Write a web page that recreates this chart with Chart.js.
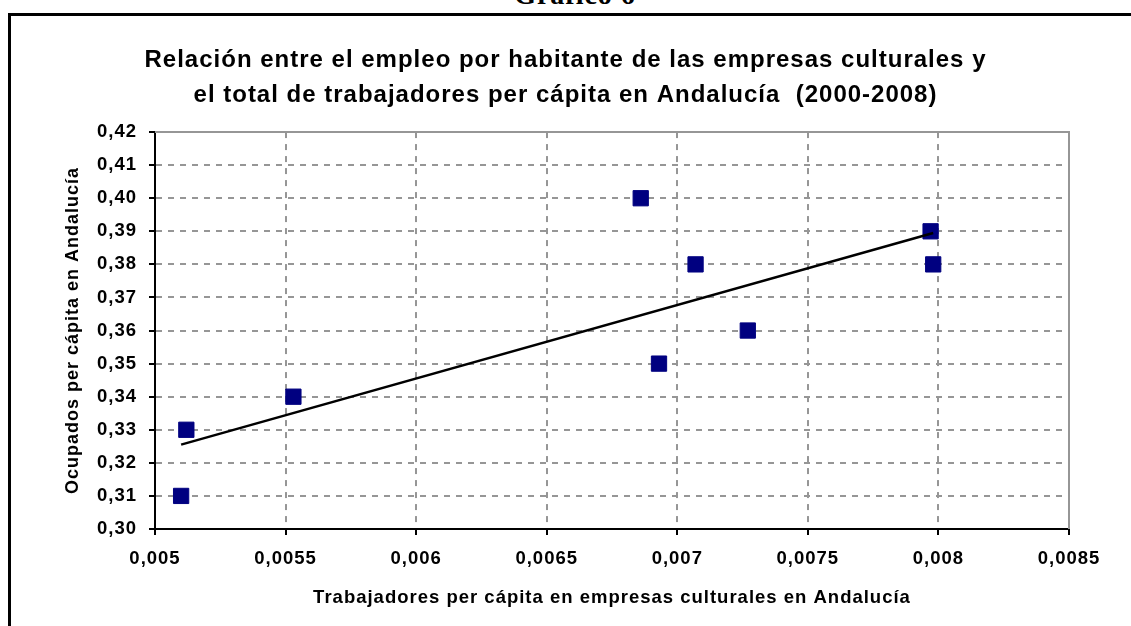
<!DOCTYPE html>
<html>
<head>
<meta charset="utf-8">
<script src="https://cdn.jsdelivr.net/npm/chart.js@4/dist/chart.umd.min.js"></script>
<style>
	html, body { margin: 0; padding: 0; background: #fff; overflow: hidden; }
	#page { position: relative; width: 1131px; height: 626px; }
	#caption {
		position: absolute; left: 0; top: -19px; width: 1150px; text-align: center;
		font: bold 28px "Liberation Serif", "Times New Roman", serif; line-height: 28px;
		letter-spacing: 1px;
	}
	#frame {
		position: absolute; left: 8px; top: 13px; width: 1200px; height: 700px;
		border-top: 3px solid #000; border-left: 3px solid #000;
	}
	#chart { position: absolute; left: 0; top: 0; }
</style>
</head>
<body>
<div id="page">
	<div id="caption">Gráfico 6</div>
	<div id="frame"></div>
	<canvas id="chart" width="1131" height="626"></canvas>
</div>
<script>
// values
var empleoCultural = [0.00510, 0.00512, 0.00553, 0.00686, 0.00707, 0.00693, 0.00727, 0.00797, 0.00798];
var ocupados = [0.31, 0.33, 0.34, 0.40, 0.38, 0.35, 0.36, 0.39, 0.38];

// linear trend line end points
var trendX = [0.00510, 0.00798];
var trendY = [0.3255, 0.3895];

var titleLines = [
	'Relación entre el empleo por habitante de las empresas culturales y',
	'el total de trabajadores per cápita en Andalucía  (2000-2008)'
];
var xTitle = 'Trabajadores per cápita en empresas culturales en Andalucía';
var yTitle = 'Ocupados per cápita en Andalucía';

var FONT = '"Liberation Sans", Arial, sans-serif';

// the original lettering is a bit wider than Arial
var wideText = {
	id: 'wideText',
	beforeUpdate: function(chart) { chart.ctx.letterSpacing = '1px'; },
	beforeDraw: function(chart) { chart.ctx.letterSpacing = '1px'; }
};

// gray solid edge on top and right of the plot
var plotFrame = {
	id: 'plotFrame',
	afterDatasetsDraw: function(chart) {
		var a = chart.chartArea, ctx = chart.ctx;
		ctx.save();
		ctx.strokeStyle = '#969696';
		ctx.lineWidth = 2;
		ctx.beginPath();
		ctx.moveTo(a.left, a.top);
		ctx.lineTo(a.right, a.top);
		ctx.lineTo(a.right, a.bottom);
		ctx.stroke();
		ctx.restore();
	}
};

function comma(v, d) {
	return parseFloat(v.toFixed(d)).toString().replace('.', ',');
}

new Chart(document.getElementById('chart'), {
	type: 'scatter',
	data: {
		datasets: [
			{
				type: 'line',
				order: 0,
				data: trendX.map(function(x, i) { return {x: x, y: trendY[i]}; }),
				borderColor: '#000',
				borderWidth: 2.5,
				pointRadius: 0,
				fill: false
			},
			{
				order: 1,
				data: empleoCultural.map(function(x, i) { return {x: x, y: ocupados[i]}; }),
				pointStyle: 'rect',
				pointRadius: 10.8,
				backgroundColor: '#000080',
				borderColor: '#000080',
				borderWidth: 1
			}
		]
	},
	options: {
		responsive: false,
		animation: false,
		events: [],
		layout: { padding: 0 },
		plugins: {
			legend: { display: false },
			tooltip: { enabled: false },
			title: {
				display: true,
				text: titleLines,
				color: '#000',
				font: { family: FONT, size: 24, weight: 'bold', lineHeight: 1.46 },
				padding: { top: 43, bottom: 19 }
			}
		},
		scales: {
			x: {
				type: 'linear',
				min: 0.005,
				max: 0.0085,
				afterFit: function(s) { s.height = 97; },
				ticks: {
					stepSize: 0.0005,
					color: '#000',
					padding: 13,
					maxRotation: 0,
					font: { family: FONT, size: 18.5, weight: 'bold' },
					callback: function(v) { return comma(v, 4); }
				},
				grid: {
					color: '#969696',
					lineWidth: 2,
					tickColor: '#000',
					tickLength: 6,
					tickWidth: 2
				},
				border: { color: '#000', width: 2, dash: [6, 6] },
				title: {
					display: true,
					text: xTitle,
					color: '#000',
					font: { family: FONT, size: 18.5, weight: 'bold' },
					padding: { top: 0, bottom: 17 }
				}
			},
			y: {
				min: 0.30,
				max: 0.42,
				afterFit: function(s) { s.width = 155; },
				ticks: {
					stepSize: 0.01,
					color: '#000',
					padding: 12,
					font: { family: FONT, size: 18.5, weight: 'bold' },
					callback: function(v) { return comma(v, 2).replace(/^0,(\d)$/, '0,$10'); }
				},
				grid: {
					color: '#969696',
					lineWidth: 2,
					tickColor: '#000',
					tickLength: 6,
					tickWidth: 2
				},
				border: { color: '#000', width: 2, dash: [6, 6] },
				title: {
					display: true,
					text: yTitle,
					color: '#000',
					font: { family: FONT, size: 18, weight: 'bold' },
					padding: { top: 62, bottom: 0 }
				}
			},
			// empty right margin so the title centres on the whole frame
			yRight: {
				position: 'right',
				min: 0.30,
				max: 0.42,
				afterFit: function(s) { s.width = 62; },
				ticks: { display: false },
				grid: { display: false },
				border: { display: false }
			}
		}
	},
	plugins: [wideText, plotFrame]
});
</script>
</body>
</html>
